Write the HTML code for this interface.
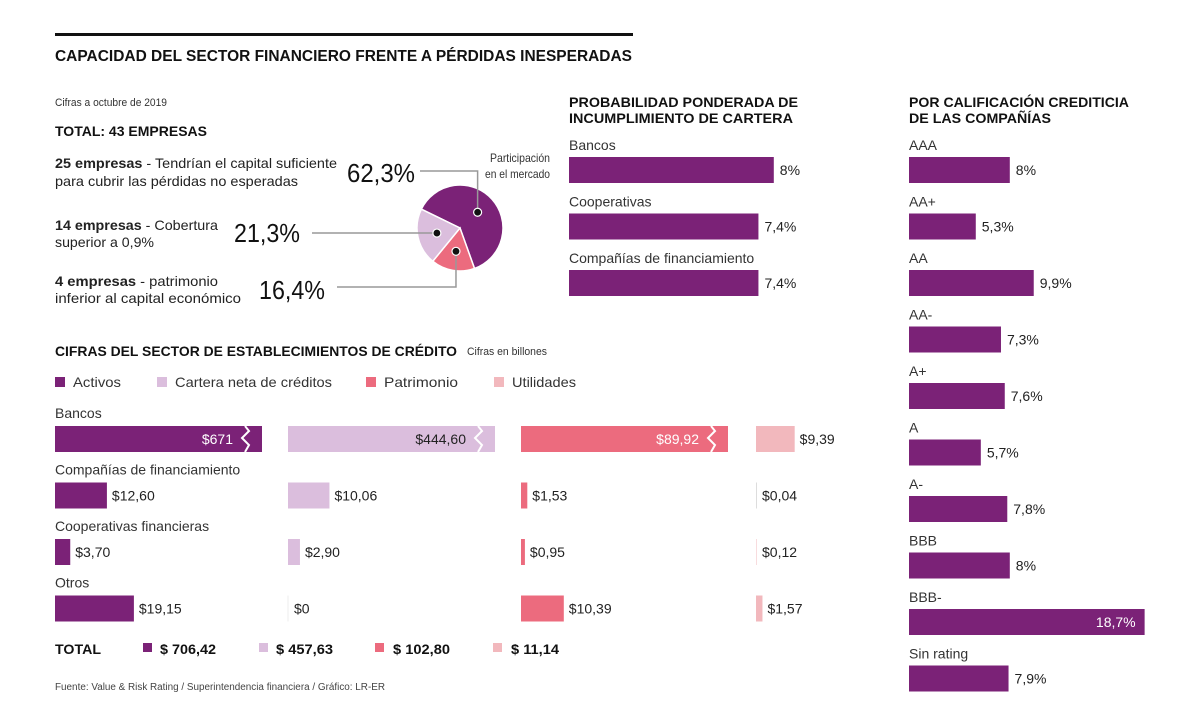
<!DOCTYPE html>
<html><head><meta charset="utf-8">
<style>
html,body{margin:0;padding:0;background:#fff;}
svg{display:block;font-family:"Liberation Sans",sans-serif;}
</style></head>
<body>
<svg id="chart" width="1200" height="723" viewBox="0 0 1200 723" xmlns="http://www.w3.org/2000/svg">
<rect x="55" y="33" width="578" height="3" fill="#111"/>
<text x="55" y="61" font-size="16" font-weight="bold" fill="#111" textLength="577" lengthAdjust="spacingAndGlyphs">CAPACIDAD DEL SECTOR FINANCIERO FRENTE A PÉRDIDAS INESPERADAS</text>
<text x="55" y="106" font-size="11" fill="#333" textLength="112" lengthAdjust="spacingAndGlyphs">Cifras a octubre de 2019</text>
<text x="55" y="136" font-size="14" font-weight="bold" fill="#111" textLength="152" lengthAdjust="spacingAndGlyphs">TOTAL: 43 EMPRESAS</text>

<g font-size="14" fill="#222">
<text x="55" y="168" textLength="282" lengthAdjust="spacingAndGlyphs"><tspan font-weight="bold">25 empresas</tspan> - Tendrían el capital suficiente</text>
<text x="55" y="186" textLength="243" lengthAdjust="spacingAndGlyphs">para cubrir las pérdidas no esperadas</text>
</g>
<g font-size="14" fill="#222">
<text x="55" y="230" textLength="163" lengthAdjust="spacingAndGlyphs"><tspan font-weight="bold">14 empresas</tspan> - Cobertura</text>
<text x="55" y="247" textLength="99" lengthAdjust="spacingAndGlyphs">superior a 0,9%</text>
</g>
<g font-size="14" fill="#222">
<text x="55" y="286" textLength="163" lengthAdjust="spacingAndGlyphs"><tspan font-weight="bold">4 empresas</tspan> - patrimonio</text>
<text x="55" y="303" textLength="186" lengthAdjust="spacingAndGlyphs">inferior al capital económico</text>
</g>
<text x="347" y="182" font-size="26" fill="#111" textLength="68" lengthAdjust="spacingAndGlyphs">62,3%</text>
<text x="234" y="242" font-size="26" fill="#111" textLength="66" lengthAdjust="spacingAndGlyphs">21,3%</text>
<text x="259" y="299" font-size="26" fill="#111" textLength="66" lengthAdjust="spacingAndGlyphs">16,4%</text>
<text x="550" y="162" font-size="12" fill="#333" text-anchor="end" textLength="60" lengthAdjust="spacingAndGlyphs">Participación</text>
<text x="550" y="178" font-size="12" fill="#333" text-anchor="end" textLength="65" lengthAdjust="spacingAndGlyphs">en el mercado</text>
<g id="pie"></g>

<text x="569" y="107" font-size="14" font-weight="bold" fill="#111" textLength="229" lengthAdjust="spacingAndGlyphs">PROBABILIDAD PONDERADA DE</text>
<text x="569" y="123" font-size="14" font-weight="bold" fill="#111" textLength="224" lengthAdjust="spacingAndGlyphs">INCUMPLIMIENTO DE CARTERA</text>
<g id="prob"></g>

<text x="909" y="107" font-size="14" font-weight="bold" fill="#111" textLength="220" lengthAdjust="spacingAndGlyphs">POR CALIFICACIÓN CREDITICIA</text>
<text x="909" y="123" font-size="14" font-weight="bold" fill="#111" textLength="142" lengthAdjust="spacingAndGlyphs">DE LAS COMPAÑÍAS</text>
<g id="rating"></g>

<text x="55" y="356" font-size="14" font-weight="bold" fill="#111" textLength="402" lengthAdjust="spacingAndGlyphs">CIFRAS DEL SECTOR DE ESTABLECIMIENTOS DE CRÉDITO</text>
<text x="467" y="355" font-size="11" fill="#333" textLength="80" lengthAdjust="spacingAndGlyphs">Cifras en billones</text>
<g font-size="14" fill="#333">
<rect x="55" y="377" width="10" height="10" fill="#7b2277"/><text x="73" y="387" textLength="48" lengthAdjust="spacingAndGlyphs">Activos</text>
<rect x="157" y="377" width="10" height="10" fill="#dbbedd"/><text x="175" y="387" textLength="157" lengthAdjust="spacingAndGlyphs">Cartera neta de créditos</text>
<rect x="366" y="377" width="10" height="10" fill="#ec6b7e"/><text x="384" y="387" textLength="74" lengthAdjust="spacingAndGlyphs">Patrimonio</text>
<rect x="494" y="377" width="10" height="10" fill="#f2b8bd"/><text x="512" y="387" textLength="64" lengthAdjust="spacingAndGlyphs">Utilidades</text>
</g>
<g id="credit"></g>
<g font-size="14" font-weight="bold" fill="#111">
<text x="55" y="654" textLength="46" lengthAdjust="spacingAndGlyphs">TOTAL</text>
<rect x="143" y="643" width="9" height="9" fill="#7b2277"/><text x="160" y="654" textLength="56" lengthAdjust="spacingAndGlyphs">$ 706,42</text>
<rect x="259" y="643" width="9" height="9" fill="#dbbedd"/><text x="276" y="654" textLength="57" lengthAdjust="spacingAndGlyphs">$ 457,63</text>
<rect x="375" y="643" width="9" height="9" fill="#ec6b7e"/><text x="393" y="654" textLength="57" lengthAdjust="spacingAndGlyphs">$ 102,80</text>
<rect x="493" y="643" width="9" height="9" fill="#f2b8bd"/><text x="511" y="654" textLength="48" lengthAdjust="spacingAndGlyphs">$ 11,14</text>
</g>
<text x="55" y="690" font-size="10" fill="#444" textLength="330" lengthAdjust="spacingAndGlyphs">Fuente: Value &amp; Risk Rating / Superintendencia financiera / Gráfico: LR-ER</text>
</svg>
<script>
const NS = "http://www.w3.org/2000/svg";
const pieShares = [62.3, 21.3, 16.4];
const pieNames = ["sufficient-capital", "coverage-above", "equity-below"];
const pieOrder = [0, 2, 1];
const probCats = ["Bancos", "Cooperativas", "Compañías de financiamiento"];
const probVals = [8, 7.4, 7.4];
const probLabels = ["8%", "7,4%", "7,4%"];
const ratingCats = ["AAA","AA+","AA","AA-","A+","A","A-","BBB","BBB-","Sin rating"];
const ratingVals = [8, 5.3, 9.9, 7.3, 7.6, 5.7, 7.8, 8, 18.7, 7.9];
const ratingLabels = ["8%","5,3%","9,9%","7,3%","7,6%","5,7%","7,8%","8%","18,7%","7,9%"];
const creditCats = ["Bancos","Compañías de financiamiento","Cooperativas financieras","Otros"];
const activos = [671, 12.60, 3.70, 19.15];
const cartera = [444.60, 10.06, 2.90, 0];
const patrimonio = [89.92, 1.53, 0.95, 10.39];
const utilidades = [9.39, 0.04, 0.12, 1.57];
const activosLbl = ["$671","$12,60","$3,70","$19,15"];
const carteraLbl = ["$444,60","$10,06","$2,90","$0"];
const patrimonioLbl = ["$89,92","$1,53","$0,95","$10,39"];
const utilidadesLbl = ["$9,39","$0,04","$0,12","$1,57"];

function mk(tag, attrs, parent){ const e=document.createElementNS(NS,tag); for(const k in attrs) e.setAttribute(k,attrs[k]); parent.appendChild(e); return e; }

// Pie
const pie = document.getElementById('pie');
const cx=460, cy=228, r=43;
const pieColors=["#7b2277","#dbbedd","#ec6b7e"];
const total = pieShares.reduce((a,b)=>a+b,0);
let ang = 296;
const pt=(a,rr)=>[cx+rr*Math.sin(a*Math.PI/180), cy-rr*Math.cos(a*Math.PI/180)];
const dots=[];
pieOrder.forEach(i=>{
  const v=pieShares[i];
  const sweep=v/total*360; const a0=ang, a1=ang+sweep;
  const p0=pt(a0,r), p1=pt(a1,r);
  const s=mk('path',{d:`M${cx},${cy}L${p0[0]},${p0[1]}A${r},${r} 0 ${sweep>180?1:0} 1 ${p1[0]},${p1[1]}Z`,fill:pieColors[i],stroke:"#fff","stroke-width":1.5},pie);
  
  
  dots[i]=pt((a0+a1)/2, r*0.55);
  ang=a1;
});
const d0=dots[0], d1=dots[1], d2=dots[2];
const l1=mk('polyline',{points:`420,171 ${d0[0]},171 ${d0[0]},${d0[1]}`,fill:"none",stroke:"#999","stroke-width":1.5},pie);


const l2=mk('polyline',{points:`312,${d1[1]} ${d1[0]},${d1[1]}`,fill:"none",stroke:"#999","stroke-width":1.5},pie);


const l3=mk('polyline',{points:`337,287 ${d2[0]},287 ${d2[0]},${d2[1]}`,fill:"none",stroke:"#999","stroke-width":1.5},pie);


dots.forEach((d,i)=>{
  const c=mk('circle',{cx:d[0],cy:d[1],r:4,fill:"#111",stroke:"#fff","stroke-width":1.2},pie);
  
  
});

// Probability chart
const prob=document.getElementById('prob');
const probX=v=>569+v*25.6;
probCats.forEach((c,i)=>{
  const y=145+i*56.5;
  const t=mk('text',{x:569,y:y+5,"font-size":14,fill:"#333"},prob); t.textContent=c;
  
  
  const b=mk('rect',{x:569,y:y+12,width:probX(probVals[i])-569,height:26,fill:"#7b2277"},prob);
  
  
  const v=mk('text',{x:probX(probVals[i])+6,y:y+30,"font-size":14,fill:"#222"},prob); v.textContent=probLabels[i];
  
  
});

// Rating chart
const rating=document.getElementById('rating');
const ratX=v=>909+v*12.6;
ratingCats.forEach((c,i)=>{
  const y=145+i*56.5;
  const t=mk('text',{x:909,y:y+5,"font-size":14,fill:"#333"},rating); t.textContent=c;
  
  
  const b=mk('rect',{x:909,y:y+12,width:ratX(ratingVals[i])-909,height:26,fill:"#7b2277"},rating);
  
  
  const inside = ratX(ratingVals[i])>1100;
  const v=mk('text',{x:inside?ratX(ratingVals[i])-9:ratX(ratingVals[i])+6,y:y+30,"font-size":14,fill:inside?"#fff":"#222","text-anchor":inside?"end":"start"},rating); v.textContent=ratingLabels[i];
  
  
});

// Credit chart
const credit=document.getElementById('credit');
const series=[activos,cartera,patrimonio,utilidades];
const seriesLbl=[activosLbl,carteraLbl,patrimonioLbl,utilidadesLbl];
const seriesColors=["#7b2277","#dbbedd","#ec6b7e","#f2b8bd"];
const seriesNames=["activos","cartera","patrimonio","utilidades"];
const colX=[55,288,521,756];
const maxW=207;
const wScale=v=>v*4.12;
creditCats.forEach((c,i)=>{
  const y=413+i*56.5;
  const t=mk('text',{x:55,y:y+5,"font-size":14,fill:"#333"},credit); t.textContent=c;
  
  
  series.forEach((s,j)=>{
    let w=wScale(s[i]); const broken=w>maxW; if(broken) w=maxW;
    const x0=colX[j]; const by=y+13;
    if(s[i]===0){
      const ln=mk('line',{x1:x0,y1:by,x2:x0,y2:by+26,stroke:"#eee","stroke-width":1},credit);
      
      
    } else {
      const b=mk('rect',{x:x0,y:by,width:Math.max(w,s[i]<0.1?1:w),height:26,fill:s[i]<0.1?"#ddd":seriesColors[j]},credit);
      
      
    }
    if(broken){
      const zx=x0+w-17;
      const z=mk('polyline',{points:`${zx},${by} ${zx+4},${by+5} ${zx-3},${by+12} ${zx+4},${by+19} ${zx},${by+26}`,fill:"none",stroke:"#fff","stroke-width":2},credit);
      
      
      const v=mk('text',{x:zx-12,y:by+18,"font-size":14,fill:j===1?"#222":"#fff","text-anchor":"end"},credit); v.textContent=seriesLbl[j][i];
      
      
    } else {
      const v=mk('text',{x:x0+Math.max(w,1)+5,y:by+18,"font-size":14,fill:"#222"},credit); v.textContent=seriesLbl[j][i];
      
      
    }
  });
});
</script>
</body></html>
